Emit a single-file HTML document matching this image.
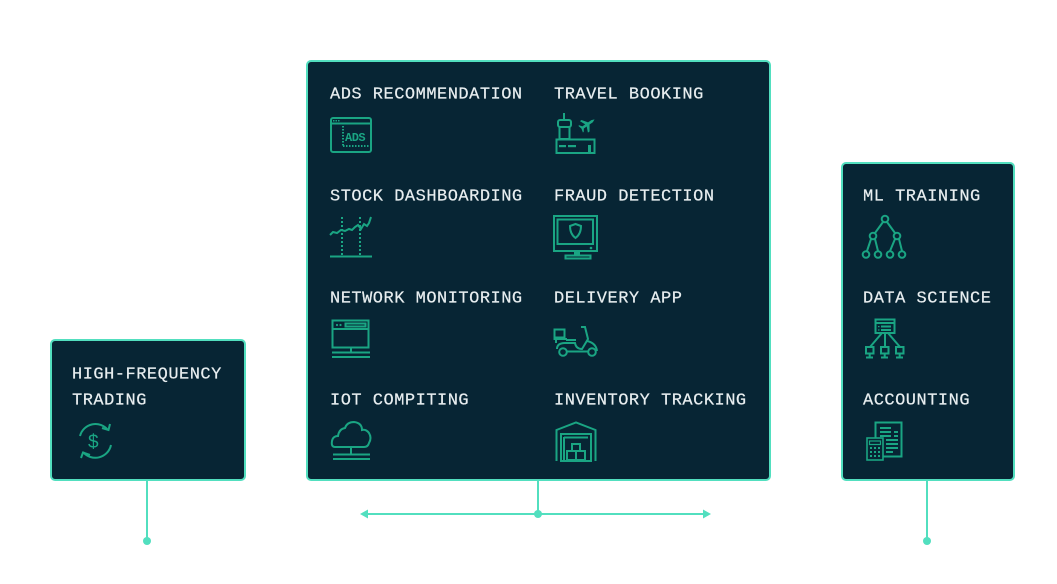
<!DOCTYPE html>
<html>
<head>
<meta charset="utf-8">
<style>
html,body{margin:0;padding:0;background:#ffffff;}
body{width:1057px;height:584px;overflow:hidden;}
svg{display:block;}
.t{font-family:"Liberation Mono",monospace;font-size:17px;letter-spacing:0.5px;fill:#e8eef0;stroke:#e8eef0;stroke-width:0.2px;}
.i{fill:none;stroke:#1aa583;stroke-width:2;}
.f{fill:#1aa583;}
</style>
</head>
<body>
<svg width="1057" height="584" viewBox="0 0 1057 584" xmlns="http://www.w3.org/2000/svg">
  <!-- boxes -->
  <rect x="51" y="340" width="194" height="140" rx="4" fill="#072534" stroke="#52dfbf" stroke-width="2"/>
  <rect x="307" y="61" width="463" height="419" rx="4" fill="#072534" stroke="#52dfbf" stroke-width="2"/>
  <rect x="842" y="163" width="172" height="317" rx="4" fill="#072534" stroke="#52dfbf" stroke-width="2"/>

  <!-- connectors -->
  <g stroke="#52dfbf" stroke-width="2" fill="none">
    <line x1="147" y1="481" x2="147" y2="541"/>
    <line x1="927" y1="481" x2="927" y2="541"/>
    <line x1="538" y1="481" x2="538" y2="514"/>
    <line x1="365" y1="514" x2="706" y2="514"/>
  </g>
  <g fill="#52dfbf">
    <circle cx="147" cy="541" r="4"/>
    <circle cx="927" cy="541" r="4"/>
    <circle cx="538" cy="514" r="4"/>
    <polygon points="360,514 368,509.5 368,518.5"/>
    <polygon points="711,514 703,509.5 703,518.5"/>
  </g>

  <!-- labels -->
  <text class="t" x="330" y="98.5">ADS RECOMMENDATION</text>
  <text class="t" x="554" y="98.5">TRAVEL BOOKING</text>
  <text class="t" x="330" y="200.5">STOCK DASHBOARDING</text>
  <text class="t" x="554" y="200.5">FRAUD DETECTION</text>
  <text class="t" x="330" y="302.5">NETWORK MONITORING</text>
  <text class="t" x="554" y="302.5">DELIVERY APP</text>
  <text class="t" x="330" y="404.5">IOT COMPITING</text>
  <text class="t" x="554" y="404.5">INVENTORY TRACKING</text>
  <text class="t" x="863" y="200.5">ML TRAINING</text>
  <text class="t" x="863" y="302.5">DATA SCIENCE</text>
  <text class="t" x="863" y="404.5">ACCOUNTING</text>
  <text class="t" x="72" y="378.5">HIGH-FREQUENCY</text>
  <text class="t" x="72" y="404.5">TRADING</text>

  <!-- ADS icon -->
  <rect class="i" x="331" y="118" width="40" height="34" rx="2"/>
  <line class="i" x1="331" y1="123.5" x2="371" y2="123.5" stroke-width="1.5"/>
  <g class="f"><rect x="333" y="120" width="1.5" height="1.5"/><rect x="335.5" y="120" width="1.5" height="1.5"/><rect x="338" y="120" width="1.5" height="1.5"/></g>
  <line class="i" x1="343" y1="126" x2="343" y2="146" stroke-width="1.5" stroke-dasharray="1.5 1.5"/>
  <line class="i" x1="343" y1="146" x2="370" y2="146" stroke-width="1.5" stroke-dasharray="1.5 1.5"/>
  <text x="345" y="141" font-family="Liberation Mono, monospace" font-weight="bold" font-size="12" fill="#1aa583" letter-spacing="-0.5">ADS</text>

  <!-- Stock icon -->
  <polyline class="i" stroke-width="1.8" points="330,235 333,232 337,233 341,230 345,231 349,229 352,230 355,227 358,225 361,229 364,224 367,226 369,223 371,217"/>
  <line class="i" x1="342" y1="217" x2="342" y2="256" stroke-width="1.5" stroke-dasharray="2 2"/>
  <line class="i" x1="360" y1="217" x2="360" y2="256" stroke-width="1.5" stroke-dasharray="2 2"/>
  <line class="i" x1="330" y1="256.5" x2="372" y2="256.5"/>

  <!-- Travel icon -->
  <line class="i" x1="564" y1="113" x2="564" y2="120" stroke-width="1.5"/>
  <rect class="i" x="558" y="120" width="13" height="7" rx="2" stroke-width="1.5"/>
  <rect class="i" x="559.5" y="127" width="10" height="12" stroke-width="1.5"/>
  <rect class="i" x="556.5" y="139.5" width="38" height="13.5" stroke-width="1.8"/>
  <g class="f"><rect x="559" y="145" width="7" height="2.2"/><rect x="568" y="145" width="8" height="2.2"/><rect x="588" y="145" width="3" height="8"/></g>
  <path class="f" transform="translate(588,124) rotate(-35)" d="M8,0 L5,-1.3 L1,-1.3 L-3,-7 L-5,-7 L-2.5,-1.3 L-6,-1.3 L-8,-4 L-9,-4 L-8,0 L-9,4 L-8,4 L-6,1.3 L-2.5,1.3 L-5,7 L-3,7 L1,1.3 L5,1.3 Z"/>

  <!-- Fraud icon -->
  <rect class="i" x="554" y="216" width="43" height="35" stroke-width="1.8"/>
  <rect class="i" x="557.5" y="219.5" width="35.5" height="24.5" stroke-width="1.5"/>
  <circle class="f" cx="591" cy="248" r="1.3"/>
  <rect class="f" x="574" y="251" width="6" height="4"/>
  <rect class="i" x="565.5" y="255.5" width="25" height="3" stroke-width="1.5"/>
  <path class="i" stroke-width="1.5" d="M575.5,224 L581,226 Q581,234 575.5,238 Q570,234 570,226 Z"/>

  <!-- Network icon -->
  <rect class="i" x="332.5" y="320.5" width="36" height="27" stroke-width="1.8"/>
  <line class="i" x1="332.5" y1="329" x2="368.5" y2="329" stroke-width="1.5"/>
  <g class="f"><circle cx="337" cy="325" r="1.1"/><circle cx="340.5" cy="325" r="1.1"/></g>
  <rect class="i" x="345.5" y="323.5" width="20" height="3" stroke-width="1.2"/>
  <line class="i" x1="351" y1="348" x2="351" y2="352" stroke-width="1.5"/>
  <line class="i" x1="332" y1="352.5" x2="370" y2="352.5" stroke-width="1.5"/>
  <line class="i" x1="332" y1="357" x2="370" y2="357" stroke-width="1.5"/>

  <!-- IoT cloud icon -->
  <path class="i" stroke-width="1.8" d="M335,447 Q331,447 332,441 Q333,436 338,436 Q339,429 345,428 Q347,422 354,422 Q362,423 362,430 Q366,429 369,433 Q372,438 369,443 Q368,447 364,447 Z"/>
  <line class="i" x1="351" y1="447" x2="351" y2="454" stroke-width="1.5"/>
  <line class="i" x1="333" y1="454.5" x2="370" y2="454.5" stroke-width="1.5"/>
  <line class="i" x1="333" y1="459" x2="370" y2="459" stroke-width="1.5"/>

  <!-- Delivery scooter icon -->
  <rect class="i" x="554.5" y="329.5" width="10" height="8" stroke-width="1.6"/>
  <line class="i" x1="553.5" y1="339" x2="567" y2="339" stroke-width="1.6"/>
  <line class="i" x1="556" y1="339" x2="556" y2="343" stroke-width="1.6"/>
  <path class="i" stroke-width="1.6" d="M566,340 L576,340 M557,349 Q557,343 565,343 L575,343 Q576,349 582,349 L588,339 L585,327 L581,327"/>
  <path class="i" stroke-width="1.6" d="M587,341 Q596,343 597,351"/>
  <circle class="i" cx="563" cy="352" r="3.8" stroke-width="1.6"/>
  <circle class="i" cx="592" cy="352" r="3.8" stroke-width="1.6"/>
  <line class="i" x1="567" y1="351.5" x2="588" y2="351.5" stroke-width="1.6"/>

  <!-- Inventory warehouse icon -->
  <path class="i" stroke-width="1.6" d="M556.5,461 L556.5,430 L576,422.5 L595.5,430 L595.5,461"/>
  <rect class="i" x="561" y="434" width="30" height="27" stroke-width="1.6"/>
  <line class="i" x1="564" y1="437" x2="564" y2="461" stroke-width="1.3"/>
  <line class="i" x1="564" y1="437.5" x2="588" y2="437.5" stroke-width="1.3"/>
  <rect class="i" x="572" y="444" width="8" height="7" stroke-width="1.5"/>
  <rect class="i" x="567" y="451" width="9" height="9" stroke-width="1.5"/>
  <rect class="i" x="576" y="451" width="9" height="9" stroke-width="1.5"/>

  <!-- ML tree icon -->
  <g class="i" stroke-width="1.6">
    <line x1="883" y1="222" x2="875" y2="233"/>
    <line x1="887" y1="222" x2="895" y2="233"/>
    <line x1="871" y1="239" x2="867" y2="251"/>
    <line x1="875" y1="239" x2="878" y2="251"/>
    <line x1="895" y1="239" x2="890" y2="251"/>
    <line x1="899" y1="239" x2="902" y2="251"/>
    <circle cx="885" cy="219" r="3.3"/>
    <circle cx="873" cy="236" r="3.3"/>
    <circle cx="897" cy="236" r="3.3"/>
    <circle cx="866" cy="254.5" r="3.3"/>
    <circle cx="878" cy="254.5" r="3.3"/>
    <circle cx="890" cy="254.5" r="3.3"/>
    <circle cx="902" cy="254.5" r="3.3"/>
  </g>

  <!-- Data science icon -->
  <g class="i" stroke-width="1.5">
    <rect x="875.5" y="319.5" width="19" height="13.5"/>
    <line x1="875.5" y1="323" x2="894.5" y2="323"/>
    <line x1="881" y1="326.5" x2="891" y2="326.5"/>
    <line x1="881" y1="330" x2="891" y2="330"/>
    <line x1="885" y1="333" x2="885" y2="347"/>
    <line x1="882" y1="333" x2="870" y2="347"/>
    <line x1="888" y1="333" x2="900" y2="347"/>
    <rect x="866" y="347" width="7.5" height="6.5"/>
    <rect x="881" y="347" width="7.5" height="6.5"/>
    <rect x="896" y="347" width="7.5" height="6.5"/>
    <line x1="869.7" y1="354" x2="869.7" y2="357"/>
    <line x1="884.7" y1="354" x2="884.7" y2="357"/>
    <line x1="899.7" y1="354" x2="899.7" y2="357"/>
    <line x1="866" y1="357.5" x2="873" y2="357.5"/>
    <line x1="881" y1="357.5" x2="888" y2="357.5"/>
    <line x1="896" y1="357.5" x2="903" y2="357.5"/>
  </g>
  <g class="f"><rect x="878" y="326" width="1.5" height="1.2"/><rect x="878" y="329.4" width="1.5" height="1.2"/></g>

  <!-- Accounting icon -->
  <g class="i" stroke-width="1.6">
    <rect x="875.5" y="422.5" width="26" height="34"/>
    <line x1="880" y1="428" x2="891" y2="428"/>
    <line x1="880" y1="432" x2="891" y2="432"/>
    <line x1="880" y1="436" x2="891" y2="436"/>
    <line x1="894" y1="432" x2="898" y2="432"/>
    <line x1="894" y1="436" x2="898" y2="436"/>
    <line x1="886" y1="440" x2="898" y2="440"/>
    <line x1="886" y1="444" x2="898" y2="444"/>
    <line x1="886" y1="448" x2="898" y2="448"/>
    <line x1="886" y1="452" x2="893" y2="452"/>
  </g>
  <rect x="867" y="438" width="16" height="22" fill="#072534" stroke="#1aa583" stroke-width="1.6"/>
  <rect x="869.5" y="441" width="11" height="3.5" fill="none" stroke="#1aa583" stroke-width="1.2"/>
  <g class="f">
    <rect x="870" y="447" width="2" height="2"/><rect x="874" y="447" width="2" height="2"/><rect x="878" y="447" width="2" height="2"/>
    <rect x="870" y="451" width="2" height="2"/><rect x="874" y="451" width="2" height="2"/><rect x="878" y="451" width="2" height="2"/>
    <rect x="870" y="455" width="2" height="2"/><rect x="874" y="455" width="2" height="2"/><rect x="878" y="455" width="2" height="2"/>
  </g>

  <!-- HFT icon -->
  <path class="i" stroke-width="1.8" d="M80,436 A16,16 0 0 1 108,430"/>
  <path class="i" stroke-width="1.8" d="M111,445 A16,16 0 0 1 83,452"/>
  <path class="i" stroke-width="1.8" d="M102,428 L108.5,430 L110,424"/>
  <path class="i" stroke-width="1.8" d="M90,455 L83,452.5 L81,458"/>
  <text x="88" y="448" font-family="Liberation Sans, sans-serif" font-size="19" fill="#1aa583">$</text>
</svg>
</body>
</html>
